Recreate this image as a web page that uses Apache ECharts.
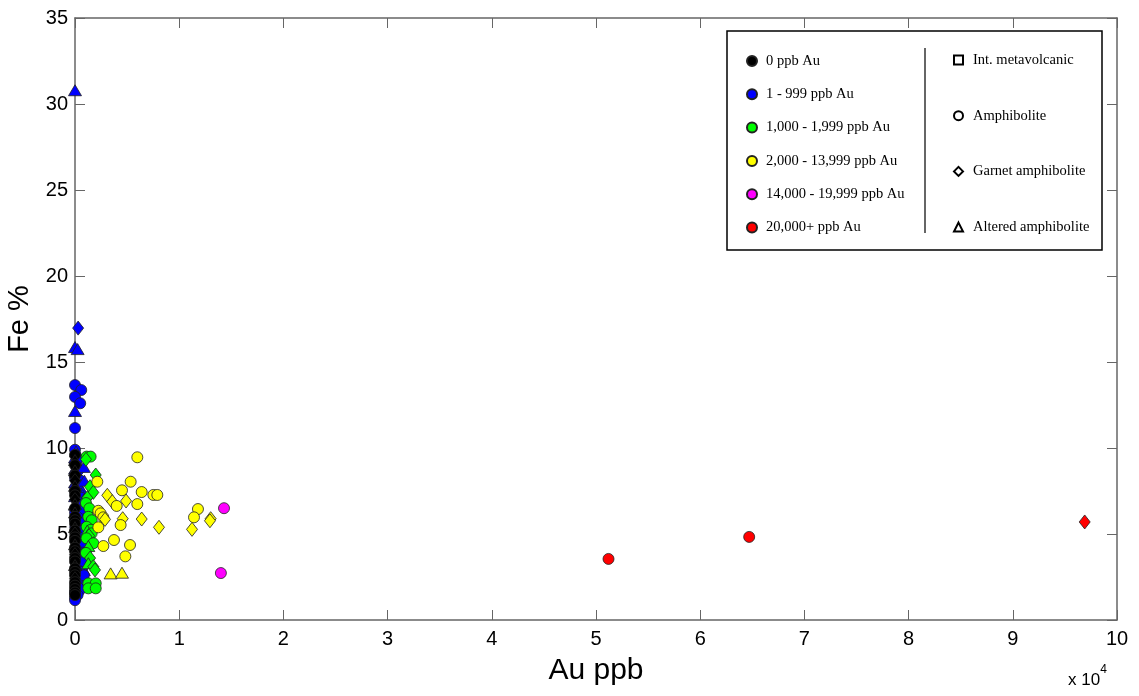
<!DOCTYPE html>
<html>
<head>
<meta charset="utf-8">
<script src="https://cdn.jsdelivr.net/npm/echarts@6/dist/echarts.min.js"></script>
<style>
  html, body { margin: 0; padding: 0; background: #fff; }
  #chart { width: 1139px; height: 696px; }
</style>
</head>
<body>
<div id="chart"></div>
<script>
// [Au ppb, Fe %, shape]  c = amphibolite, d = garnet amphibolite, t = altered amphibolite
const blue = [
  [0, 30.8, 't'], [300, 16.97, 'd'], [0, 15.87, 't'], [250, 15.75, 't'], [0, 13.66, 'c'],
  [600, 13.37, 'c'], [0, 12.97, 'c'], [500, 12.6, 'c'], [0, 12.15, 't'], [0, 11.16, 'c'],
  [0, 9.9, 'c'], [100, 9.8, 't'], [50, 9.6, 'c'], [0, 9.45, 't'], [180, 9.3, 'c'],
  [0, 9.1, 'd'], [140, 8.95, 'c'], [0, 8.8, 't'], [300, 8.7, 'c'], [0, 8.55, 'd'],
  [260, 8.4, 't'], [0, 8.25, 'c'], [420, 8.15, 'c'], [0, 8.0, 't'], [230, 7.9, 'c'],
  [0, 7.75, 'd'], [500, 7.65, 't'], [0, 7.5, 'c'], [750, 7.45, 't'], [350, 7.35, 'c'],
  [0, 7.2, 't'], [600, 7.1, 'c'], [100, 6.95, 'd'], [380, 6.85, 'c'], [0, 6.7, 't'],
  [700, 6.6, 'c'], [200, 6.5, 'c'], [450, 6.4, 't'], [0, 6.25, 'c'], [800, 6.2, 'd'],
  [300, 6.1, 't'], [550, 6.0, 'c'], [0, 5.85, 'c'], [400, 5.75, 't'], [150, 5.6, 'c'],
  [650, 5.5, 'c'], [0, 5.4, 'd'], [850, 5.3, 't'], [300, 5.2, 'c'], [500, 5.1, 'c'],
  [700, 4.95, 't'], [750, 4.85, 'c'], [800, 4.7, 'c'], [600, 4.6, 'd'], [700, 4.45, 't'],
  [850, 4.35, 'c'], [650, 4.2, 'c'], [800, 4.1, 't'], [700, 3.95, 'c'], [850, 3.85, 'c'],
  [900, 3.7, 't'], [700, 3.55, 'd'], [800, 3.45, 'c'], [650, 3.3, 't'], [750, 3.2, 'c'],
  [700, 3.05, 'c'], [850, 2.9, 't'], [650, 2.8, 'c'], [750, 2.65, 'd'], [700, 2.5, 'c'],
  [800, 2.35, 'c'], [650, 2.2, 't'], [700, 2.05, 'c'], [750, 1.9, 'c'], [600, 1.75, 'd'],
  [0, 1.6, 'c'], [250, 1.45, 'c'], [0, 1.3, 'c'], [0, 1.15, 'c'],
  [850, 8.9, 't'], [900, 8.1, 't'], [850, 7.0, 't'], [900, 6.45, 'c'], [880, 5.9, 't'],
  [900, 5.05, 'c'], [850, 4.55, 't'], [900, 3.4, 'c'], [850, 2.6, 'c']
];
const black = [
  [0, 9.6, 'c'], [0, 9.3, 't'], [0, 9.0, 'c'], [0, 8.7, 't'], [0, 8.4, 'c'],
  [0, 8.1, 'd'], [0, 7.8, 't'], [0, 7.5, 'c'], [0, 7.25, 'c'], [0, 7.0, 'd'],
  [0, 6.75, 't'], [0, 6.5, 'c'], [0, 6.25, 't'], [0, 6.0, 'c'], [0, 5.8, 'c'],
  [0, 5.6, 'c'], [0, 5.4, 't'], [0, 5.2, 'c'], [0, 5.0, 'd'], [0, 4.8, 'c'],
  [0, 4.6, 'c'], [0, 4.4, 't'], [0, 4.2, 'c'], [0, 4.0, 'c'], [0, 3.8, 'd'],
  [0, 3.6, 'c'], [0, 3.4, 'c'], [0, 3.2, 't'], [0, 3.0, 'c'], [0, 2.8, 'c'],
  [0, 2.6, 'c'], [0, 2.4, 'd'], [0, 2.2, 'c'], [0, 2.0, 'c'], [0, 1.8, 'c'],
  [0, 1.6, 'c'], [0, 1.45, 'c']
];
const green = [
  [1120, 9.5, 'c'], [1500, 9.5, 'c'], [1050, 9.34, 'd'], [1990, 8.43, 'd'], [1440, 7.75, 'd'],
  [1760, 7.42, 'd'], [1180, 7.1, 'd'], [1050, 6.8, 'c'], [1380, 6.49, 'c'], [1280, 6.0, 'c'],
  [1600, 5.8, 'c'], [1120, 5.42, 'c'], [1540, 5.25, 'c'], [1180, 5.2, 't'], [1600, 5.04, 'c'],
  [1350, 4.9, 'd'], [1100, 4.75, 'c'], [1760, 4.46, 'c'], [1280, 4.3, 't'], [1050, 3.9, 'c'],
  [1450, 3.6, 'd'], [1280, 3.3, 't'], [1760, 3.1, 'd'], [1920, 2.91, 'd'], [1280, 2.13, 'c'],
  [1990, 2.13, 'c'], [1280, 1.84, 'c'], [1990, 1.84, 'c']
];
const yellow = [
  [5980, 9.46, 'c'], [5340, 8.04, 'c'], [2140, 8.04, 'c'], [4510, 7.54, 'c'], [6400, 7.44, 'c'],
  [7520, 7.27, 'c'], [7900, 7.27, 'c'], [3100, 7.25, 'd'], [3580, 6.88, 'd'], [4000, 6.63, 'c'],
  [4900, 6.92, 'd'], [5980, 6.74, 'c'], [11800, 6.45, 'c'], [11420, 5.97, 'c'], [13020, 5.89, 'd'],
  [12950, 5.77, 'd'], [11230, 5.27, 'd'], [8060, 5.39, 'd'], [6400, 5.87, 'd'], [4580, 5.89, 'd'],
  [4380, 5.52, 'c'], [2240, 6.35, 'c'], [2460, 6.2, 'c'], [2720, 5.97, 'c'], [2880, 5.85, 'd'],
  [2240, 5.39, 'c'], [3740, 4.65, 'c'], [2720, 4.3, 'c'], [5280, 4.36, 'c'], [4830, 3.7, 'c'],
  [3420, 2.71, 't'], [4510, 2.75, 't']
];
const magenta = [[14300, 6.5, 'c'], [14000, 2.73, 'c']];
const red = [[51200, 3.55, 'c'], [64700, 4.83, 'c'], [96900, 5.7, 'd']];

const groupNames = ['0 ppb Au', '1 - 999 ppb Au', '1,000 - 1,999 ppb Au',
  '2,000 - 13,999 ppb Au', '14,000 - 19,999 ppb Au', '20,000+ ppb Au'];
const groupColors = ['#000000', '#0000ff', '#00ff00', '#ffff00', '#ff00ff', '#ff0000'];
const shapeNames = ['Int. metavolcanic', 'Amphibolite', 'Garnet amphibolite', 'Altered amphibolite'];
const shapeIcons = ['rect', 'circle', 'diamond', 'triangle'];
const xTicks = [0, 1, 2, 3, 4, 5, 6, 7, 8, 9, 10];

const SYM = { c: 'circle', d: 'diamond', t: 'triangle', s: 'rect' };
const SIZE = { c: 11, d: [11, 14], t: [13, 11], s: 9 };

function toItems(arr) {
  return arr.map(p => ({ value: [p[0], p[1]], symbol: SYM[p[2]], symbolSize: SIZE[p[2]] }));
}

// draw order: blue under black, then higher grades
const groupData = [black, blue, green, yellow, magenta, red];
const drawOrder = [1, 0, 2, 3, 4, 5];

const series = drawOrder.map(i => ({
  name: groupNames[i],
  type: 'scatter',
  data: toItems(groupData[i]),
  itemStyle: { color: groupColors[i], borderColor: '#222', borderWidth: 0.8, opacity: 1 },
  emphasis: { disabled: true }
}));
shapeNames.forEach((n, i) => {
  series.push({
    name: n, type: 'scatter', symbol: shapeIcons[i], data: [],
    itemStyle: { color: '#fff', borderColor: '#000', borderWidth: 1.2, opacity: 1 }
  });
});

const chart = echarts.init(document.getElementById('chart'));
const axisCol = '#666';
chart.setOption({
  animation: false,
  grid: { left: 75, right: 22, top: 18, bottom: 76, outerBoundsMode: 'none', containLabel: false },
  xAxis: [{
    type: 'value', min: 0, max: 100000, interval: 10000,
    name: 'Au ppb', nameLocation: 'middle', nameGap: 36,
    nameTextStyle: { fontFamily: 'Liberation Sans', fontSize: 30, color: '#000' },
    axisLine: { onZero: false, lineStyle: { color: axisCol, width: 1.5 } },
    axisTick: { inside: true, length: 10, lineStyle: { color: axisCol } },
    axisLabel: { formatter: v => xTicks[Math.round(v / 10000)], margin: 9, fontFamily: 'Liberation Sans', fontSize: 20, color: '#000' },
    splitLine: { show: false }
  }, {
    type: 'value', position: 'top', min: 0, max: 100000, interval: 10000,
    axisLine: { onZero: false, lineStyle: { color: axisCol, width: 1.5 } },
    axisTick: { inside: true, length: 10, lineStyle: { color: axisCol } },
    axisLabel: { show: false }, splitLine: { show: false }
  }],
  yAxis: [{
    type: 'value', min: 0, max: 35, interval: 5,
    name: 'Fe %', nameLocation: 'middle', nameGap: 33,
    nameTextStyle: { fontFamily: 'Liberation Sans', fontSize: 29, color: '#000' },
    axisLine: { show: true, onZero: false, lineStyle: { color: axisCol, width: 1.5 } },
    axisTick: { show: true, inside: true, length: 10, lineStyle: { color: axisCol } },
    axisLabel: { margin: 7, fontFamily: 'Liberation Sans', fontSize: 20, color: '#000' },
    splitLine: { show: false }
  }, {
    type: 'value', position: 'right', min: 0, max: 35, interval: 5,
    axisLine: { show: true, onZero: false, lineStyle: { color: axisCol, width: 1.5 } },
    axisTick: { show: true, inside: true, length: 10, lineStyle: { color: axisCol } },
    axisLabel: { show: false }, splitLine: { show: false }
  }],
  legend: [{
    orient: 'vertical', left: 741, top: 48, itemWidth: 10, itemHeight: 10, itemGap: 17.3,
    selectedMode: false,
    data: groupNames.map(n => ({ name: n, icon: 'circle' })),
    textStyle: { fontFamily: 'Liberation Serif', fontSize: 14.5, color: '#000', lineHeight: 16, padding: [0, 0, 0, 4] }
  }, {
    orient: 'vertical', left: 948, top: 47, itemWidth: 9, itemHeight: 9, itemGap: 39.7,
    selectedMode: false,
    data: shapeNames,
    textStyle: { fontFamily: 'Liberation Serif', fontSize: 14.5, color: '#000', lineHeight: 16, padding: [0, 0, 0, 5] }
  }],
  graphic: [
    { type: 'rect', z: 1, shape: { x: 727, y: 31, width: 375, height: 219 },
      style: { fill: '#fff', stroke: '#000', lineWidth: 1.5 } },
    { type: 'line', z: 2, shape: { x1: 925, y1: 48, x2: 925, y2: 233 },
      style: { stroke: '#333', lineWidth: 1.5 } },
    { type: 'text', left: 1068, top: 664, z: 3,
      style: { text: '{a|x 10}{b|4}', rich: {
        a: { fontFamily: 'Liberation Sans', fontSize: 17, fill: '#000', padding: [8, 0, 0, 0] },
        b: { fontFamily: 'Liberation Sans', fontSize: 12, fill: '#000', verticalAlign: 'top' } } } }
  ],
  series: series
});
</script>
</body>
</html>
